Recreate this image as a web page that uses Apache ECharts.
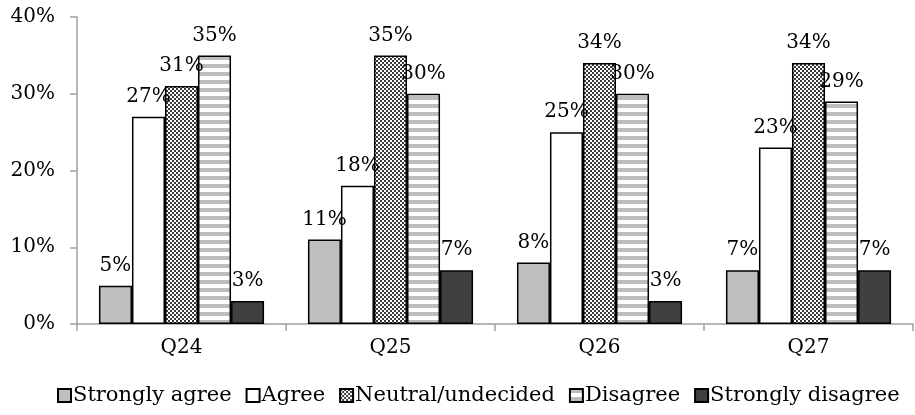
<!DOCTYPE html>
<html>
<head>
<meta charset="utf-8">
<script src="https://cdn.jsdelivr.net/npm/echarts@6/dist/echarts.min.js"></script>
<style>
  html, body { margin: 0; padding: 0; background: #fff; }
  #chart { width: 915px; height: 415px; }
</style>
</head>
<body>
<div id="chart"></div>
<script>
// Survey responses per question, in percent
const questions = ['Q24', 'Q25', 'Q26', 'Q27'];
const seriesNames = ['Strongly agree', 'Agree', 'Neutral/undecided', 'Disagree', 'Strongly disagree'];
const stronglyAgree = [5, 11, 8, 7];
const agree = [27, 18, 25, 23];
const neutral = [31, 35, 34, 34];
const disagree = [35, 30, 30, 29];
const stronglyDisagree = [3, 7, 3, 7];
const yTicks = [0, 10, 20, 30, 40];

const FONT = 'DejaVu Serif';
const FS = 20;

// Fine black/white checkerboard fill
function checkerPattern() {
  const c = document.createElement('canvas');
  c.width = 4; c.height = 4;
  const g = c.getContext('2d');
  g.fillStyle = '#ffffff'; g.fillRect(0, 0, 4, 4);
  g.fillStyle = '#3a3a3a';
  g.fillRect(0, 0, 2, 2);
  g.fillRect(2, 2, 2, 2);
  return { image: c, repeat: 'repeat' };
}

// Horizontal gray/white stripes
function stripePattern() {
  const c = document.createElement('canvas');
  c.width = 4; c.height = 8;
  const g = c.getContext('2d');
  g.fillStyle = '#ffffff'; g.fillRect(0, 0, 4, 8);
  g.fillStyle = '#bdbdbd'; g.fillRect(0, 0, 4, 4);
  return { image: c, repeat: 'repeat' };
}

const fills = ['#bfbfbf', '#ffffff', checkerPattern(), stripePattern(), '#404040'];
const values = [stronglyAgree, agree, neutral, disagree, stronglyDisagree];

const chart = echarts.init(document.getElementById('chart'), null, { renderer: 'canvas' });

chart.setOption({
  animation: false,
  textStyle: { fontFamily: FONT },
  grid: { left: 77, right: 2, top: 17, bottom: 91, containLabel: false },
  legend: {
    bottom: 4,
    left: 52,
    itemWidth: 13,
    itemHeight: 13,
    itemGap: 14,
    icon: 'rect',
    textStyle: { fontFamily: FONT, fontSize: 21, color: '#000', padding: [0, 0, 0, -3] },
    data: seriesNames
  },
  xAxis: {
    type: 'category',
    data: questions,
    axisLine: { lineStyle: { color: '#a0a0a0', width: 1.5 } },
    axisTick: { show: true, length: 7, lineStyle: { color: '#a0a0a0', width: 1.5 } },
    axisLabel: { color: '#000', fontSize: FS, fontFamily: FONT, margin: 14 }
  },
  yAxis: {
    type: 'value',
    min: yTicks[0],
    max: yTicks[yTicks.length - 1],
    interval: 10,
    axisLine: { show: true, lineStyle: { color: '#a0a0a0', width: 1.5 } },
    axisTick: { show: true, length: 7, lineStyle: { color: '#a0a0a0', width: 1.5 } },
    splitLine: { show: false },
    axisLabel: { color: '#000', fontSize: FS, fontFamily: FONT, margin: 22, formatter: '{value}%' }
  },
  series: seriesNames.map((name, i) => ({
    name,
    type: 'bar',
    data: values[i],
    barGap: '0%',
    barCategoryGap: '21%',
    itemStyle: { color: fills[i], borderColor: '#000', borderWidth: 1.5 },
    label: {
      show: true,
      position: 'top',
      distance: 10,
      color: '#000',
      fontSize: FS,
      fontFamily: FONT,
      formatter: '{c}%'
    }
  }))
});
</script>
</body>
</html>
